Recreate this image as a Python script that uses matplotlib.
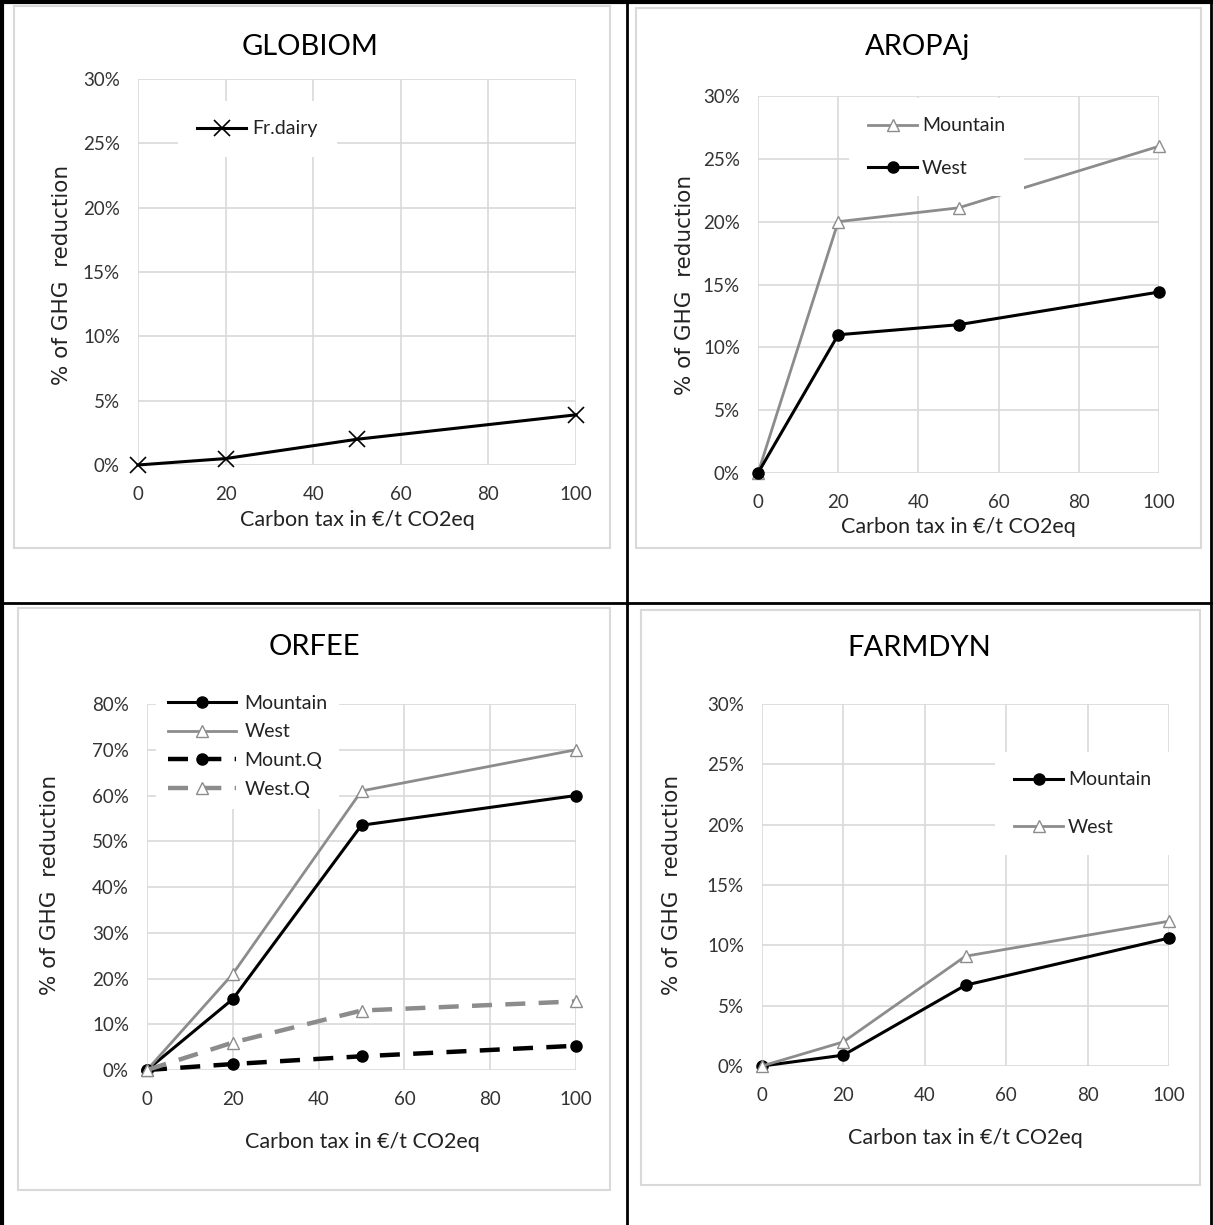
import matplotlib.pyplot as plt
from matplotlib.lines import Line2D
from matplotlib.patches import Rectangle
from matplotlib.ticker import FuncFormatter

W, H = 1213, 1225
plt.rcParams['font.family'] = ['Lato', 'DejaVu Sans']

tax = [0, 20, 50, 100]

globiom_dairy = [0.0, 0.5, 2.0, 3.9]

aropaj_mountain = [0.0, 20.0, 21.1, 26.0]
aropaj_west = [0.0, 11.0, 11.8, 14.4]

orfee_mountain = [0.0, 15.5, 53.5, 60.0]
orfee_west = [0.0, 21.0, 61.0, 70.0]
orfee_mount_q = [0.0, 1.3, 3.0, 5.3]
orfee_west_q = [0.0, 6.0, 13.0, 15.0]

farmdyn_mountain = [0.0, 0.9, 6.7, 10.6]
farmdyn_west = [0.0, 2.0, 9.1, 12.0]

xlab = "Carbon tax in €/t CO2eq"
ylab = "% of GHG  reduction"

BLACK = "#000000"
GREY = "#8c8c8c"
GRID = "#d9d9d9"


def fx(px):
    return px / W


def fy(py):
    return 1 - py / H


def make_axes(fig, x0, x1, y0, y1, ymax, ystep):
    ax = fig.add_axes([fx(x0), fy(y0), fx(x1 - x0), (y0 - y1) / H])
    ax.set_xlim(0, 100)
    ax.set_ylim(0, ymax)
    ax.set_xticks(range(0, 101, 20))
    ax.set_yticks(range(0, ymax + 1, ystep))
    ax.yaxis.set_major_formatter(FuncFormatter(lambda v, p: "%d%%" % v))
    ax.grid(True, color=GRID, linewidth=1.2)
    ax.set_axisbelow(True)
    for s in ax.spines.values():
        s.set_visible(False)
    ax.tick_params(length=0, labelsize=13.5, colors="#333333")
    ax.tick_params(axis="x", pad=15)
    ax.tick_params(axis="y", pad=13)
    return ax


def frame(fig, x0, y0, x1, y1):
    fig.add_artist(Rectangle((fx(x0), fy(y1)), fx(x1 - x0), (y1 - y0) / H,
                             transform=fig.transFigure, fill=False,
                             edgecolor=GRID, linewidth=1.5))


def legend(ax, fig, L, T, spacing, hl, tp, pad=1.0):
    leg = ax.legend(loc="upper left", bbox_to_anchor=(fx(L), fy(T)),
                    bbox_transform=fig.transFigure, borderaxespad=0,
                    borderpad=pad, fontsize=14, labelspacing=spacing,
                    handlelength=hl, handletextpad=tp, numpoints=1,
                    frameon=True, fancybox=False, edgecolor="none",
                    facecolor="white", framealpha=1.0)
    for t in leg.get_texts():
        t.set_color("#222222")
    return leg


def labels(fig, title, tx, ty, xx, xy, yx, yy):
    fig.text(fx(tx), fy(ty), title, ha="center", va="center", fontsize=21)
    fig.text(fx(xx), fy(xy), xlab, ha="center", va="center", fontsize=15.5,
             color="#222222")
    fig.text(fx(yx), fy(yy), ylab, ha="center", va="center", rotation=90,
             fontsize=15.5, family="DejaVu Sans", color="#222222")


fig = plt.figure(figsize=(W / 100, H / 100), dpi=100)

# table borders
for (xa, ya, xb, yb, lw) in [(2, 1, 2, 1225, 3), (1, 2, 1212, 2, 3),
                             (1211, 1, 1211, 1225, 2), (627, 1, 627, 1225, 2),
                             (1, 603, 1212, 603, 2)]:
    fig.add_artist(Line2D([fx(xa), fx(xb)], [fy(ya), fy(yb)],
                          transform=fig.transFigure, color="black", linewidth=lw))

frame(fig, 14, 6, 610, 548)
frame(fig, 636, 8, 1201, 548)
frame(fig, 18, 608, 610, 1190)
frame(fig, 641, 610, 1200, 1185)

circ = dict(marker="o", markersize=8, clip_on=False)
tri = dict(marker="^", markersize=9, markerfacecolor="white",
           markeredgecolor=GREY, clip_on=False)

# GLOBIOM
ax1 = make_axes(fig, 138, 576, 465, 79, 30, 5)
ax1.plot(tax, globiom_dairy, color=BLACK, linewidth=2.2, marker="x",
         markersize=11, markeredgewidth=1.2, clip_on=False, label="Fr.dairy")
legend(ax1, fig, 178, 101, 0.5, 2.5, 0.3)
labels(fig, "GLOBIOM", 310, 47, 357, 520, 62, 275)

# AROPAj
ax2 = make_axes(fig, 758, 1159, 473, 96, 30, 5)
ax2.plot(tax, aropaj_mountain, color=GREY, linewidth=2.0, label="Mountain", **tri)
ax2.plot(tax, aropaj_west, color=BLACK, linewidth=2.2, label="West", **circ)
legend(ax2, fig, 849, 98, 1.3, 2.5, 0.25)
labels(fig, "AROPAj", 918, 47, 958, 527, 685, 285)

# ORFEE
ax3 = make_axes(fig, 147, 576, 1070, 704, 80, 10)
ax3.plot(tax, orfee_mountain, color=BLACK, linewidth=2.2, label="Mountain", **circ)
ax3.plot(tax, orfee_west, color=GREY, linewidth=2.0, label="West", **tri)
ax3.plot(tax, orfee_mount_q, color=BLACK, linewidth=3.2, linestyle=(0, (4.5, 3)),
         label="Mount.Q", **circ)
ax3.plot(tax, orfee_west_q, color=GREY, linewidth=3.2, linestyle=(0, (4.5, 3)),
         label="West.Q", **tri)
legend(ax3, fig, 156, 683, 0.6, 3.5, 0.45, pad=0.6)
labels(fig, "ORFEE", 314, 647, 362, 1142, 50, 885)

# FARMDYN
ax4 = make_axes(fig, 762, 1169, 1066, 704, 30, 5)
ax4.plot(tax, farmdyn_mountain, color=BLACK, linewidth=2.2, label="Mountain", **circ)
ax4.plot(tax, farmdyn_west, color=GREY, linewidth=2.0, label="West", **tri)
legend(ax4, fig, 995, 752, 1.55, 2.5, 0.25)
labels(fig, "FARMDYN", 919, 648, 965, 1138, 672, 885)

fig.savefig("out.png", dpi=100)
